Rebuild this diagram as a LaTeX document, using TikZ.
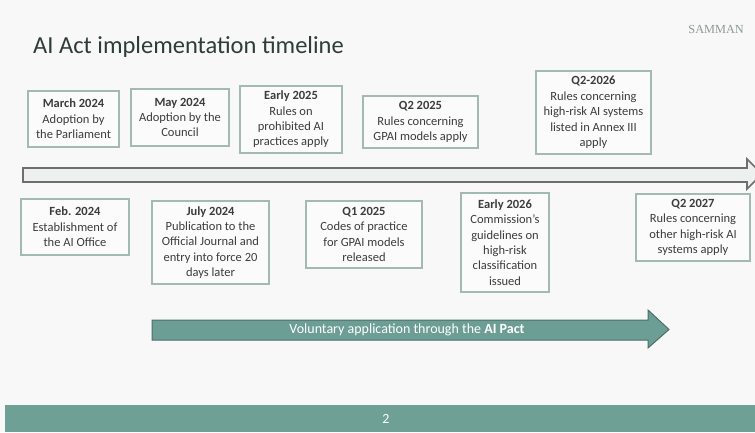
\documentclass[tikz,border=0pt]{standalone}
\usepackage{fontspec}
\setmainfont{Carlito}
\newfontfamily\brandfont{Liberation Serif}
\definecolor{pagebg}{HTML}{F7F8F7}
\definecolor{titleink}{HTML}{2E3D39}
\definecolor{boxline}{HTML}{A3BAB4}
\definecolor{boxfill}{HTML}{FBFBFB}
\definecolor{boxink}{HTML}{3C3C3C}
\definecolor{axisfill}{HTML}{EDF0EF}
\definecolor{axisline}{HTML}{6E6E6E}
\definecolor{pactfill}{HTML}{6C9E96}
\definecolor{pactline}{HTML}{4E6E69}
\definecolor{footerteal}{HTML}{6FA096}
\definecolor{brandgray}{HTML}{8C9A97}
\tikzset{
  milestone/.style={draw=boxline, line width=1.3pt, fill=boxfill, text=boxink,
    align=center, inner sep=0pt, font=\fontsize{12.5}{15.4}\selectfont},
}
\newcommand{\mdate}[1]{\textbf{#1}}
\begin{document}
\begin{tikzpicture}[x=1pt, y=-1pt]
  % page
  \fill[pagebg] (0,0) rectangle (755,432);
  \useasboundingbox (0,0) rectangle (755,432);

  % heading and brand
  \node[anchor=base west, text=titleink, inner sep=0pt,
        font=\fontsize{24.5}{28}\selectfont] (title) at (33,53) {AI Act implementation timeline};
  \node[anchor=base east, text=brandgray, inner sep=0pt,
        font=\brandfont\fontsize{12.3}{14}\selectfont] (brand) at (744,33) {SAMMAN};

  % main time axis
  \draw[fill=axisfill, draw=axisline, line width=1.6pt, line join=miter]
    (23,168) -- (747,168) -- (747,159) -- (762,174) -- (747,189) -- (747,182) -- (23,182) -- cycle;

  % milestones above the axis
  \node[milestone, minimum width=91pt, minimum height=56pt] (m1) at (73.5,119)
    {\mdate{March 2024}\\Adoption by\\the Parliament};
  \node[milestone, minimum width=98pt, minimum height=57pt] (m2) at (180,117.5)
    {\mdate{May 2024}\\Adoption by the\\Council};
  \node[milestone, minimum width=102pt, minimum height=67pt] (m3) at (291,119.5)
    {\mdate{Early 2025}\\Rules on\\prohibited AI\\practices apply};
  \node[milestone, minimum width=115pt, minimum height=52pt] (m4) at (420.5,122)
    {\mdate{Q2 2025}\\Rules concerning\\GPAI models apply};
  \node[milestone, minimum width=115pt, minimum height=83pt] (m5) at (593.5,112.5)
    {\mdate{Q2-2026}\\Rules concerning\\high-risk AI systems\\listed in Annex III\\apply};

  % milestones below the axis
  \node[milestone, minimum width=108pt, minimum height=56pt] (m6) at (75,227)
    {\mdate{Feb. 2024}\\Establishment of\\the AI Office};
  \node[milestone, minimum width=117pt, minimum height=83pt] (m7) at (210.5,242.5)
    {\mdate{July 2024}\\Publication to the\\Official Journal and\\entry into force 20\\days later};
  \node[milestone, minimum width=116pt, minimum height=67pt] (m8) at (364,234.5)
    {\mdate{Q1 2025}\\Codes of practice\\for GPAI models\\released};
  \node[milestone, minimum width=88pt, minimum height=99pt] (m9) at (505,242.5)
    {\mdate{Early 2026}\\Commission’s\\guidelines on\\high-risk\\classification\\issued};
  \node[milestone, minimum width=114pt, minimum height=67pt] (m10) at (693,227.5)
    {\mdate{Q2 2027}\\Rules concerning\\other high-risk AI\\systems apply};

  % voluntary application band
  \draw[fill=pactfill, draw=pactline, line width=1pt, line join=miter]
    (152,320) -- (648,320) -- (648,310) -- (669,329.5) -- (648,348) -- (648,340) -- (152,340) -- cycle;
  \node[text=white, inner sep=0pt, font=\fontsize{14}{16}\selectfont] (pact) at (407,330)
    {Voluntary application through the \textbf{AI Pact}};

  % footer
  \fill[footerteal] (5,405) rectangle (755,432);
  \node[text=white, inner sep=0pt, font=\fontsize{14}{16}\selectfont] (pageno) at (386,418.5) {2};
\end{tikzpicture}
\end{document}
